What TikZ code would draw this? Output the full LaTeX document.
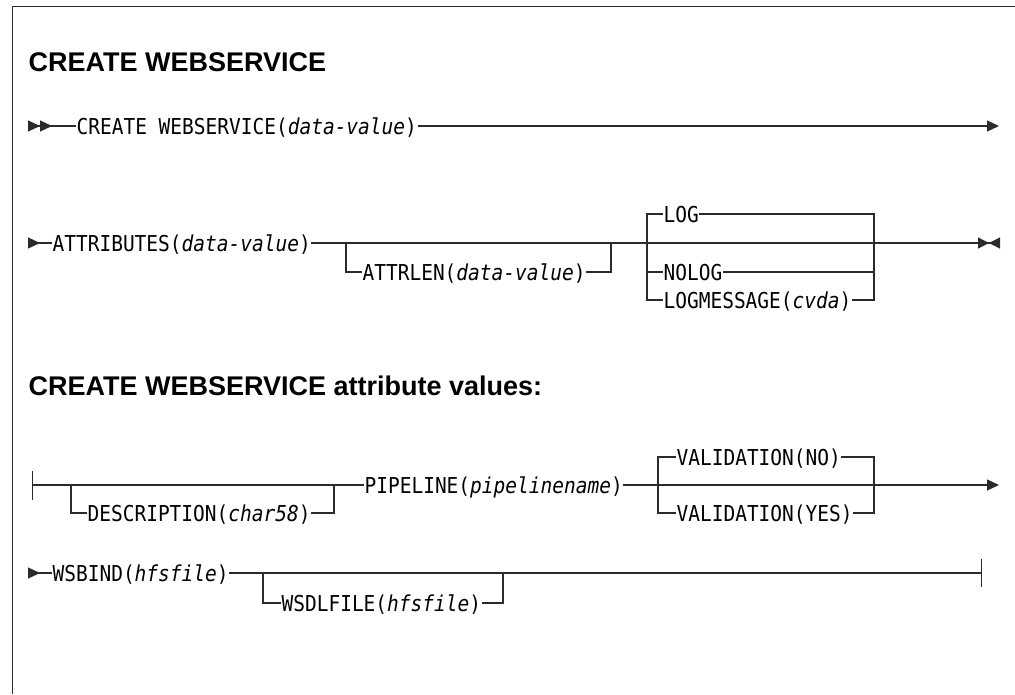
\documentclass[tikz,border=0pt]{standalone}
\usepackage{fontspec}
\newfontfamily\synfont[FakeStretch=0.89]{DejaVu Sans Mono}
\newfontfamily\headfont{Liberation Sans}
\usepackage{tikz}
\usetikzlibrary{arrows.meta}
\definecolor{rule}{HTML}{2B2B2B}

\begin{document}
\begin{tikzpicture}[
  x=1pt, y=-1pt, line width=1.2pt, draw=rule,
  kw/.style={font=\synfont\fontsize{21.9}{24}\selectfont, inner sep=0pt,
    text height=20.4pt, text depth=4.4pt, anchor=west},
  head/.style={font=\headfont\bfseries\fontsize{27}{30}\selectfont,
    inner sep=0pt, anchor=base west},
  dblstart/.style={{Triangle[reversed,length=12pt,width=11pt]Triangle[reversed,length=12pt,width=11pt]}-},
  onestart/.style={{Triangle[reversed,length=12pt,width=11pt]}-},
  tailend/.style={-{Triangle[length=12pt,width=11pt]}},
  pairend/.style={-{Triangle[length=11pt,width=11pt]Triangle[reversed,length=11pt,width=11pt]}},
  barstart/.style={{Bar[width=29pt]}-},
  barend/.style={-{Bar[width=28pt]}}
]
  \useasboundingbox (0,0) rectangle (1015,694);

  % Frame
  \draw (12.5,694) -- (12.5,6.5) -- (1015,6.5);

  % Headings
  \node[head] (title) at (28,71) {CREATE WEBSERVICE};
  \node[head] (subtitle) at (28,395) {CREATE WEBSERVICE attribute values:};

  % Row 1
  \coordinate (s1) at (28,126);
  \coordinate (e1) at (999,126);
  \node[kw] (create) at (76,126) {CREATE WEBSERVICE(\textit{data-value})};
  \draw[dblstart] (s1) -- (create.west);
  \draw[tailend] (create.east) -- (e1);

  % Row 2
  \coordinate (s2) at (28,243);
  \coordinate (e2) at (1000,243);
  \node[kw] (attrs) at (52,243) {ATTRIBUTES(\textit{data-value})};
  \node[kw] (attrlen) at (362,272) {ATTRLEN(\textit{data-value})};
  \node[kw] (log) at (663,214) {LOG};
  \node[kw] (nolog) at (663,272) {NOLOG};
  \node[kw] (logmsg) at (663,300) {LOGMESSAGE(\textit{cvda})};
  \coordinate (b2a) at (346,243);
  \coordinate (b2b) at (611,243);
  \coordinate (b2c) at (647,243);
  \coordinate (b2d) at (874,243);

  \draw[onestart] (s2) -- (attrs.west);
  \draw[pairend] (attrs.east) -- (e2);
  \draw (b2a) |- (attrlen.west);
  \draw (attrlen.east) -| (b2b);
  \draw (log.west) -| (b2c |- logmsg) -- (logmsg.west);
  \draw (b2c |- nolog) -- (nolog.west);
  \draw (log.east) -| (b2d |- logmsg) -- (logmsg.east);
  \draw (nolog.east) -- (b2d |- nolog);

  % Row 3
  \coordinate (s3) at (32,485);
  \coordinate (e3) at (999,485);
  \node[kw] (descr) at (87,513) {DESCRIPTION(\textit{char58})};
  \node[kw] (pipe) at (364,485) {PIPELINE(\textit{pipelinename})};
  \node[kw] (valno) at (676,457) {VALIDATION(NO)};
  \node[kw] (valyes) at (676,513) {VALIDATION(YES)};
  \coordinate (b3a) at (71,485);
  \coordinate (b3b) at (334,485);
  \coordinate (b3c) at (658,485);
  \coordinate (b3d) at (874,485);

  \draw[barstart] (s3) -- (pipe.west);
  \draw[tailend] (pipe.east) -- (e3);
  \draw (b3a) |- (descr.west);
  \draw (descr.east) -| (b3b);
  \draw (valno.west) -| (b3c |- valyes) -- (valyes.west);
  \draw (valno.east) -| (b3d |- valyes) -- (valyes.east);

  % Row 4
  \coordinate (s4) at (28,573);
  \coordinate (e4) at (982,573);
  \node[kw] (wsbind) at (52,573) {WSBIND(\textit{hfsfile})};
  \node[kw] (wsdl) at (281,603) {WSDLFILE(\textit{hfsfile})};
  \coordinate (b4a) at (263,573);
  \coordinate (b4b) at (503,573);

  \draw[onestart] (s4) -- (wsbind.west);
  \draw[barend] (wsbind.east) -- (e4);
  \draw (b4a) |- (wsdl.west);
  \draw (wsdl.east) -| (b4b);
\end{tikzpicture}
\end{document}
